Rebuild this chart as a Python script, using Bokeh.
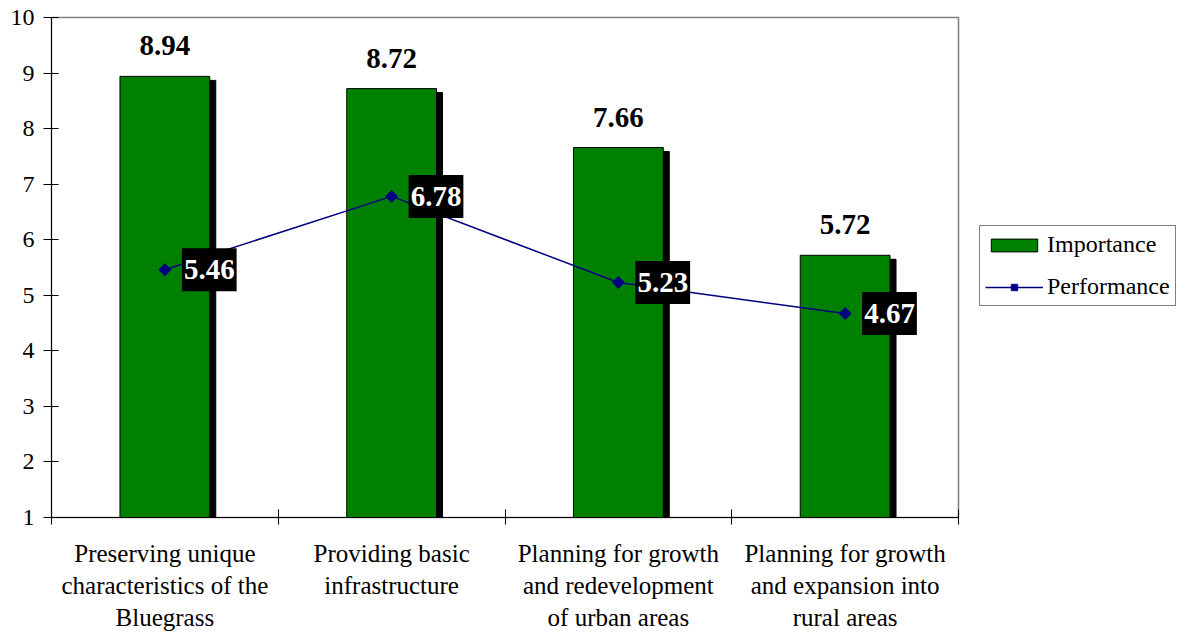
import numpy as np
from bokeh.plotting import figure
from bokeh.layouts import row
from bokeh.models import (Range1d, FixedTicker, ColumnDataSource, LabelSet, Label,
                          Legend, LegendItem)
from bokeh.embed import file_html
from bokeh.resources import INLINE

categories = ["Preserving unique\ncharacteristics of the\nBluegrass",
              "Providing basic\ninfrastructure",
              "Planning for growth\nand redevelopment\nof urban areas",
              "Planning for growth\nand expansion into\nrural areas"]
importance = [8.94, 8.72, 7.66, 5.72]
performance = [5.46, 6.78, 5.23, 4.67]
y_ticks = [1, 2, 3, 4, 5, 6, 7, 8, 9, 10]

FONT = "Liberation Serif"
TOTAL_W, H = 1183, 634
W = 968                     # main chart width; legend panel takes the rest
ML, MT = 51, 17
MR = W - 958
MB = H - 518
frame_w = W - ML - MR
frame_h = H - MT - MB

n = len(categories)
xs = [i + 0.5 for i in range(n)]
bar_w = 0.396
# shadow offset: 6 px right, 4 px down, converted to data units
dx = 6 * n / frame_w
dy = 4 * (y_ticks[-1] - y_ticks[0]) / frame_h

src = ColumnDataSource(dict(
    x=xs, xs=[x + dx for x in xs], imp=importance,
    imp_s=[v - dy for v in importance], perf=performance,
    imp_txt=[f"{v:.2f}" for v in importance],
))

BAR_STYLE = dict(fill_color="#008000", line_color="black", line_width=1)
LINE_STYLE = dict(line_color="#000080", line_width=1.5)
MARK_STYLE = dict(marker="square", angle=np.pi / 4, size=8.5,
                  fill_color="#000080", line_color="#000080")

p = figure(width=W, height=H, output_backend="svg", toolbar_location=None,
           x_range=Range1d(0, n), y_range=Range1d(y_ticks[0], y_ticks[-1]),
           min_border_left=ML, min_border_right=MR, min_border_top=MT,
           min_border_bottom=MB)
p.xgrid.visible = False
p.ygrid.visible = False
p.outline_line_color = "#808080"
p.outline_line_width = 1.5
p.background_fill_color = "white"
p.border_fill_color = "white"

# shadows
p.vbar(x="xs", top="imp_s", bottom=y_ticks[0], width=bar_w, source=src,
       fill_color="black", line_color="black")
p.vbar(x="x", top="imp", bottom=y_ticks[0], width=bar_w, source=src, **BAR_STYLE)
p.line(x="x", y="perf", source=src, **LINE_STYLE)
p.scatter(x="x", y="perf", source=src, **MARK_STYLE)

# axes
yax = p.yaxis[0]
yax.ticker = FixedTicker(ticks=y_ticks)
yax.major_tick_in = 7
yax.major_tick_out = 8
yax.minor_tick_line_color = None
yax.axis_line_color = "black"
yax.major_tick_line_color = "black"
yax.major_label_text_font = FONT
yax.major_label_text_font_size = "24px"
yax.major_label_text_color = "black"
yax.major_label_standoff = 9

xax = p.xaxis[0]
xax.ticker = FixedTicker(ticks=xs, minor_ticks=list(range(n + 1)))
xax.major_label_overrides = {x: c for x, c in zip(xs, categories)}
xax.major_tick_line_color = None
xax.major_tick_in = 0
xax.major_tick_out = 0
xax.minor_tick_line_color = "black"
xax.minor_tick_in = 8
xax.minor_tick_out = 7
xax.axis_line_color = "black"
xax.major_label_text_font = FONT
xax.major_label_text_font_size = "25px"
xax.major_label_text_color = "black"
xax.major_label_standoff = 15

# importance value labels
p.add_layout(LabelSet(x="x", y="imp", text="imp_txt", source=src,
                      text_align="center", text_baseline="alphabetic",
                      y_offset=21, text_font=FONT, text_font_size="29px",
                      text_font_style="bold", text_color="black"))

# performance value labels (white on black)
for x, v in zip(xs, performance):
    p.add_layout(Label(x=x, y=v, text=f"{v:.2f}", x_offset=17,
                       text_align="left", text_baseline="middle",
                       text_font=FONT, text_font_size="29px",
                       text_font_style="bold", text_color="white",
                       background_fill_color="black",
                       padding=dict(left=2, right=2, top=12, bottom=12)))

# legend panel (separate figure to the right of the chart)
LW = TOTAL_W - W
q = figure(width=LW, height=H, output_backend="svg", toolbar_location=None,
           x_range=Range1d(0, 1), y_range=Range1d(0, 1),
           min_border_left=0, min_border_right=0, min_border_top=MT,
           min_border_bottom=MB, x_axis_type=None, y_axis_type=None)
q.outline_line_color = None
q.xgrid.visible = False
q.ygrid.visible = False
q.border_fill_color = "white"
# off-range placeholder source so the legend swatches are drawn
proxy = ColumnDataSource(dict(x=[2, 3], y=[2, 3]))
lb = q.vbar(x="x", top="y", width=0.1, source=proxy, **BAR_STYLE)
ll = q.line(x="x", y="y", source=proxy, **LINE_STYLE)
lm = q.scatter(x="x", y="y", source=proxy, **MARK_STYLE)

legend = Legend(items=[LegendItem(label="Importance", renderers=[lb]),
                       LegendItem(label="Performance", renderers=[ll, lm])],
                location=(11, 518 - 307), orientation="vertical",
                label_text_font=FONT, label_text_font_size="24px",
                label_text_color="black", glyph_width=58, glyph_height=16,
                label_height=27, label_standoff=4, spacing=15, padding=5,
                margin=0, border_line_color="black", border_line_width=1,
                background_fill_color="white", background_fill_alpha=1)
q.add_layout(legend, "center")

layout = row(p, q, spacing=0)
open("out.html", "w").write(file_html(layout, INLINE))
